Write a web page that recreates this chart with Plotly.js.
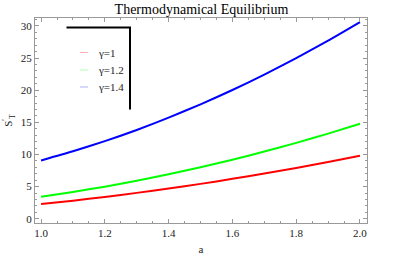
<!DOCTYPE html>
<html>
<head>
<meta charset="utf-8">
<script src="https://cdn.plot.ly/plotly-3.0.1.min.js"></script>
<style>html,body{margin:0;padding:0;background:#fff;}#chart{width:415px;height:258px;}</style>
</head>
<body>
<div id="chart"></div>
<script>
const aValues = [1.0, 1.1, 1.2, 1.3, 1.4, 1.5, 1.6, 1.7, 1.8, 1.9, 2.0];
const gamma1 = [2.28, 2.81, 3.39, 4.02, 4.70, 5.42, 6.20, 7.03, 7.90, 8.83, 9.80];
const gamma12 = [3.42, 4.16, 4.99, 5.90, 6.91, 8.00, 9.18, 10.45, 11.80, 13.24, 14.77];
const gamma14 = [9.07, 10.49, 12.07, 13.81, 15.73, 17.80, 20.03, 22.43, 24.99, 27.71, 30.60];
const seriesNames = ["γ=1", "γ=1.2", "γ=1.4"];
const xTicks = [1.0, 1.2, 1.4, 1.6, 1.8, 2.0];
const xTickLabels = ["1.0", "1.2", "1.4", "1.6", "1.8", "2.0"];
const yTicks = [0, 5, 10, 15, 20, 25, 30];

const serif = "'Liberation Serif', 'Times New Roman', Times, serif";
const lineColors = ["#ff0000", "#00ff00", "#0000ff"];
const legendColors = ["#ffb0b0", "#b0ffb0", "#b0b0ff"];
const allSeries = [gamma1, gamma12, gamma14];

const traces = allSeries.map((ys, i) => ({
  x: aValues, y: ys, type: "scatter", mode: "lines",
  line: {color: lineColors[i], width: 2, shape: "spline", smoothing: 0.6},
  name: seriesNames[i], showlegend: false, hoverinfo: "skip"
}));

// pixel -> paper helpers (plot area: x 35..367, y 18..223)
const L = 35, R = 367, T = 18, B = 223;
const px = x => (x - L) / (R - L);
const py = y => (B - y) / (B - T);

const shapes = [
  {type: "line", xref: "paper", yref: "paper", x0: px(66.5), x1: px(131), y0: py(27.5), y1: py(27.5), line: {color: "#000", width: 2}},
  {type: "line", xref: "paper", yref: "paper", x0: px(130), x1: px(130), y0: py(27.5), y1: py(109.5), line: {color: "#000", width: 2}}
];
const legY = [52.5, 70, 87];
const annotations = [];
seriesNames.forEach((n, i) => {
  shapes.push({type: "line", xref: "paper", yref: "paper", x0: px(80), x1: px(88), y0: py(legY[i]), y1: py(legY[i]), line: {color: legendColors[i], width: 1}});
  annotations.push({xref: "paper", yref: "paper", x: px(96), y: py(legY[i]), xanchor: "left", yanchor: "middle",
    text: n, showarrow: false, font: {family: serif, size: 11, color: "#222"}});
});

const axisCommon = {
  showgrid: false, zeroline: false, showline: true, linecolor: "#999", linewidth: 1,
  mirror: "ticks", ticks: "inside", ticklen: 4, tickcolor: "#999", tickwidth: 1,
  tickfont: {family: serif, size: 11, color: "#222"}
};

const layout = {
  width: 415, height: 258,
  margin: {l: 35, r: 48, t: 18, b: 35},
  paper_bgcolor: "#fff", plot_bgcolor: "#fff",
  font: {family: serif, size: 11},
  title: {text: "Thermodynamical Equilibrium", font: {family: serif, size: 14, color: "#000"}, x: 201.5 / 415, xanchor: "center", y: 0.965, yanchor: "middle"},
  xaxis: Object.assign({}, axisCommon, {
    range: [0.981, 2.022], tickvals: xTicks, ticktext: xTickLabels,
    minor: {dtick: 0.05, ticks: "inside", ticklen: 2, tickcolor: "#999", showgrid: false},
    title: {text: "a", font: {family: serif, size: 11, color: "#222"}, standoff: 7}
  }),
  yaxis: Object.assign({}, axisCommon, {
    range: [-0.67, 31.24], tickvals: yTicks,
    minor: {dtick: 1, ticks: "inside", ticklen: 2, tickcolor: "#999", showgrid: false},
    title: {text: "S<sup>′</sup><sub>T</sub>", font: {family: serif, size: 11, color: "#222"}, standoff: 5}
  }),
  shapes: shapes,
  annotations: annotations,
  showlegend: false
};

Plotly.newPlot("chart", traces, layout, {staticPlot: true, displayModeBar: false});
</script>
</body>
</html>
